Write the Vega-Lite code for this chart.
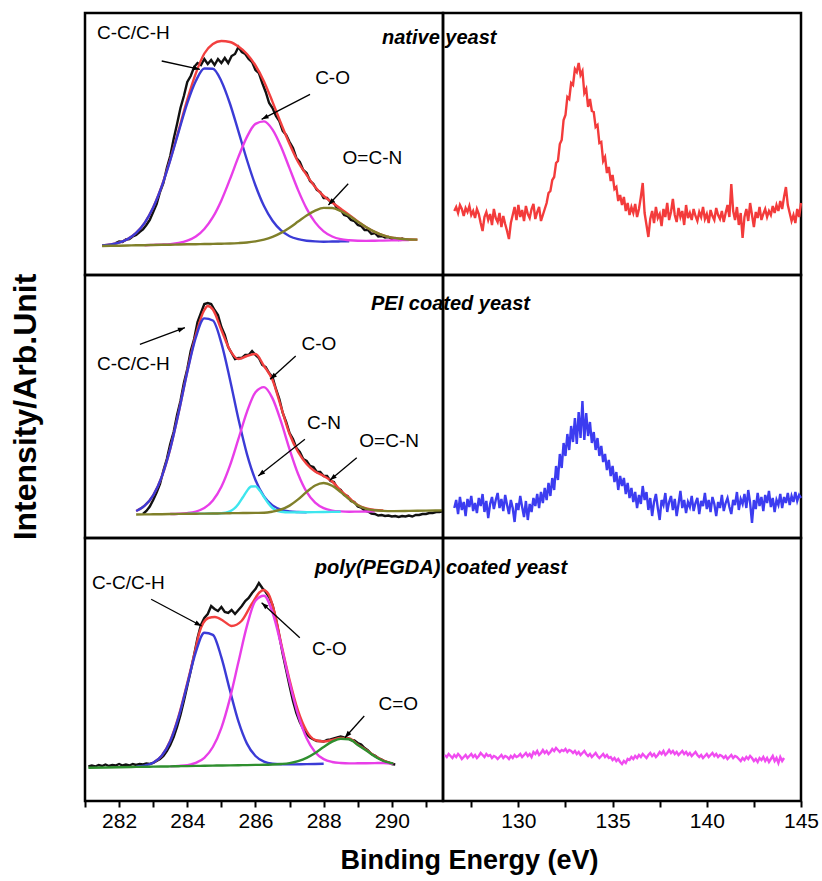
{
  "$schema": "https://vega.github.io/schema/vega-lite/v6.json",
  "background": "white",
  "padding": {"left": 7, "top": 11, "right": 4, "bottom": 4},
  "config": {
    "font": "Liberation Sans",
    "view": {"stroke": "#000000", "strokeWidth": 2.5},
    "mark": {"invalid": "filter"},
    "axis": {"grid": false, "domain": false, "tickColor": "#000000", "tickWidth": 2, "tickSize": 6, "labelColor": "#000000", "labelFontSize": 21, "labelPadding": 3, "labelFlush": false, "titleColor": "#000000"},
    "line": {"strokeWidth": 2.4, "invalid": "filter"}
  },
  "datasets": {
    "raw1": [
      {"e":281.9,"v":32},{"e":282.0,"v":33.5},{"e":282.1,"v":33},{"e":282.2,"v":35.5},{"e":282.3,"v":36},{"e":282.4,"v":38.5},{"e":282.5,"v":40},{"e":282.6,"v":43},{"e":282.7,"v":45.5},{"e":282.8,"v":50},{"e":282.9,"v":55},
      {"e":283.0,"v":63},{"e":283.1,"v":71},{"e":283.2,"v":83},{"e":283.3,"v":92},{"e":283.4,"v":107},{"e":283.5,"v":119},{"e":283.6,"v":136},{"e":283.7,"v":151},{"e":283.8,"v":167},{"e":283.9,"v":179},
      {"e":284.0,"v":193},{"e":284.1,"v":199},{"e":284.2,"v":208},{"e":284.3,"v":212},{"e":284.4,"v":210},{"e":284.5,"v":216},{"e":284.6,"v":211},{"e":284.7,"v":215},{"e":284.8,"v":210},{"e":284.9,"v":216},
      {"e":285.0,"v":212},{"e":285.1,"v":217},{"e":285.2,"v":212},{"e":285.3,"v":219},{"e":285.4,"v":221},{"e":285.5,"v":228},{"e":285.6,"v":223},{"e":285.7,"v":221},{"e":285.8,"v":216},{"e":285.9,"v":213},
      {"e":286.0,"v":205},{"e":286.1,"v":202},{"e":286.2,"v":192},{"e":286.3,"v":183},{"e":286.4,"v":172},{"e":286.5,"v":167},{"e":286.6,"v":159},{"e":286.7,"v":154},{"e":286.8,"v":144},{"e":286.9,"v":140},
      {"e":287.0,"v":133},{"e":287.1,"v":127},{"e":287.2,"v":117},{"e":287.3,"v":113},{"e":287.4,"v":105},{"e":287.5,"v":102},{"e":287.6,"v":94},{"e":287.7,"v":91},{"e":287.8,"v":85},{"e":287.9,"v":83},
      {"e":288.0,"v":77},{"e":288.1,"v":77},{"e":288.2,"v":73},{"e":288.3,"v":72},{"e":288.4,"v":66},{"e":288.5,"v":65},{"e":288.6,"v":60},{"e":288.7,"v":59},{"e":288.8,"v":55},{"e":288.9,"v":54},
      {"e":289.0,"v":50},{"e":289.1,"v":49},{"e":289.2,"v":45},{"e":289.3,"v":45},{"e":289.4,"v":41},{"e":289.5,"v":42},{"e":289.6,"v":38.5},{"e":289.7,"v":39},{"e":289.8,"v":37.5},{"e":289.9,"v":38},
      {"e":290.0,"v":36},{"e":290.1,"v":37},{"e":290.2,"v":35},{"e":290.3,"v":36.5},{"e":290.4,"v":35}
    ],
    "fit1": [
      {"e":281.5,"cc":29.6,"ocn":29.0,"fit":29.6},
      {"e":281.75,"cc":30.6,"ocn":29.2,"fit":30.6},
      {"e":282.0,"cc":32.4,"ocn":29.3,"fit":32.4},
      {"e":282.25,"cc":35.9,"ocn":29.5,"fit":35.9},
      {"e":282.5,"cc":42.1,"ocn":29.7,"fit":42.1},
      {"e":282.75,"cc":52.2,"co":29.8,"ocn":29.8,"fit":52.2},
      {"e":283.0,"cc":67.5,"co":30.1,"ocn":30.0,"fit":67.6},
      {"e":283.25,"cc":88.6,"co":30.4,"ocn":30.2,"fit":88.8},
      {"e":283.5,"cc":114.7,"co":30.9,"ocn":30.3,"fit":115.3},
      {"e":283.75,"cc":143.6,"co":32.0,"ocn":30.5,"fit":145.1},
      {"e":284.0,"cc":171.8,"co":34.3,"ocn":30.7,"fit":175.4},
      {"e":284.25,"cc":194.0,"co":38.4,"ocn":30.8,"fit":201.6},
      {"e":284.5,"cc":206.5,"co":46.0,"ocn":31.0,"fit":221.5},
      {"e":284.75,"cc":206.3,"co":57.8,"ocn":31.1,"fit":231.0},
      {"e":285.0,"cc":193.8,"co":74.6,"ocn":31.3,"fit":234.0},
      {"e":285.25,"cc":171.5,"co":95.6,"ocn":31.5,"fit":233.0},
      {"e":285.5,"cc":143.6,"co":118.1,"ocn":31.9,"fit":228.5},
      {"e":285.75,"cc":115.0,"co":138.1,"ocn":32.5,"fit":221.0},
      {"e":286.0,"cc":89.5,"co":151.1,"ocn":33.6,"fit":209.5},
      {"e":286.25,"cc":68.9,"co":153.6,"ocn":35.3,"fit":193.6},
      {"e":286.5,"cc":54.2,"co":145.4,"ocn":38.1,"fit":173.1},
      {"e":286.75,"cc":44.6,"co":128.3,"ocn":42.1,"fit":151.5},
      {"e":287.0,"cc":38.8,"co":106.6,"ocn":47.3,"fit":131.0},
      {"e":287.25,"cc":35.8,"co":84.9,"ocn":53.4,"fit":113.0},
      {"e":287.5,"cc":34.3,"co":66.4,"ocn":59.5,"fit":100.0},
      {"e":287.75,"cc":33.6,"co":52.6,"ocn":64.3,"fit":88.0},
      {"e":288.0,"cc":33.3,"co":43.7,"ocn":67.1,"fit":79.0},
      {"e":288.25,"cc":33.5,"co":38.5,"ocn":67.0,"fit":72.5},
      {"e":288.5,"cc":33.6,"co":35.8,"ocn":64.0,"fit":66.2},
      {"e":288.75,"cc":33.8,"co":34.7,"ocn":59.2,"fit":60.1},
      {"e":289.0,"co":34.2,"ocn":53.3,"fit":53.6},
      {"e":289.25,"co":34.1,"ocn":47.7,"fit":47.7},
      {"e":289.5,"co":34.3,"ocn":43.1,"fit":43.1},
      {"e":289.75,"co":34.4,"ocn":39.6,"fit":39.6},
      {"e":290.0,"co":34.6,"ocn":37.4,"fit":37.4},
      {"e":290.25,"co":34.8,"ocn":36.2,"fit":36.2},
      {"e":290.5,"co":34.9,"ocn":35.5,"fit":35.5},
      {"e":290.75,"ocn":35.4,"fit":35.4}
    ],
    "raw2": [
      {"e":282.7,"v":24},{"e":282.8,"v":27},{"e":282.9,"v":31.5},{"e":283.0,"v":38},{"e":283.1,"v":45.5},{"e":283.2,"v":54},{"e":283.3,"v":67.5},{"e":283.4,"v":79},{"e":283.5,"v":94},{"e":283.6,"v":106},
      {"e":283.7,"v":123},{"e":283.8,"v":137},{"e":283.9,"v":155},{"e":284.0,"v":169},{"e":284.1,"v":187},{"e":284.2,"v":199},{"e":284.3,"v":216},{"e":284.4,"v":225},{"e":284.5,"v":234},{"e":284.6,"v":235},
      {"e":284.7,"v":234},{"e":284.8,"v":228},{"e":284.9,"v":223},{"e":285.0,"v":211},{"e":285.1,"v":203},{"e":285.2,"v":191},{"e":285.3,"v":185},{"e":285.4,"v":179},{"e":285.5,"v":180},{"e":285.6,"v":180},
      {"e":285.7,"v":183},{"e":285.8,"v":183},{"e":285.9,"v":187},{"e":286.0,"v":183},{"e":286.1,"v":180},{"e":286.2,"v":173},{"e":286.3,"v":171},{"e":286.4,"v":165},{"e":286.5,"v":161},{"e":286.6,"v":149},
      {"e":286.7,"v":139},{"e":286.8,"v":125},{"e":286.9,"v":116},{"e":287.0,"v":105},{"e":287.1,"v":99},{"e":287.2,"v":90},{"e":287.3,"v":86},{"e":287.4,"v":79},{"e":287.5,"v":77},{"e":287.6,"v":72},
      {"e":287.7,"v":71},{"e":287.8,"v":66},{"e":287.9,"v":66},{"e":288.0,"v":62},{"e":288.1,"v":62},{"e":288.2,"v":57},{"e":288.3,"v":56},{"e":288.4,"v":50},{"e":288.5,"v":48},{"e":288.6,"v":43},
      {"e":288.7,"v":42},{"e":288.8,"v":37},{"e":288.9,"v":36},{"e":289.0,"v":31.5},{"e":289.1,"v":30.5},{"e":289.2,"v":27.5},{"e":289.3,"v":26.5},{"e":289.4,"v":24.5},{"e":289.5,"v":24},{"e":289.6,"v":22.5},
      {"e":289.7,"v":23},{"e":289.8,"v":22},{"e":289.9,"v":22.5},{"e":290.0,"v":21.5},{"e":290.1,"v":22},{"e":290.2,"v":21},{"e":290.3,"v":22},{"e":290.4,"v":21.5},{"e":290.5,"v":22.5},{"e":290.6,"v":21.5},
      {"e":290.7,"v":23},{"e":290.8,"v":23},{"e":290.9,"v":24},{"e":291.0,"v":24},{"e":291.1,"v":25},{"e":291.2,"v":25},{"e":291.3,"v":26},{"e":291.4,"v":26},{"e":291.5,"v":27}
    ],
    "fit2": [
      {"e":282.5,"cc":27.0,"ocn":23.5,"fit":27.0},
      {"e":282.75,"cc":32.3,"ocn":23.6,"fit":32.3},
      {"e":283.0,"cc":42.7,"ocn":23.7,"fit":42.7},
      {"e":283.25,"cc":61.1,"ocn":23.8,"fit":61.1},
      {"e":283.5,"cc":89.3,"co":24.0,"ocn":24.0,"fit":89.3},
      {"e":283.75,"cc":125.9,"co":24.3,"ocn":24.1,"fit":126.1},
      {"e":284.0,"cc":166.0,"co":24.9,"cn":24.2,"ocn":24.2,"fit":166.7},
      {"e":284.25,"cc":200.5,"co":26.4,"ocn":24.3,"fit":203.0},
      {"e":284.5,"cc":219.6,"co":29.9,"cn":24.4,"ocn":24.4,"fit":228.0},
      {"e":284.6,"fit":232.0},
      {"e":284.75,"cc":217.5,"co":37.5,"ocn":24.5,"fit":228.5},
      {"e":285.0,"cc":194.8,"co":51.2,"cn":24.8,"ocn":24.6,"fit":208.0},
      {"e":285.25,"cc":158.7,"co":72.3,"cn":26.7,"ocn":24.8,"fit":188.0},
      {"e":285.375,"cn":29.4},
      {"e":285.5,"cc":118.9,"co":99.1,"cn":34.1,"ocn":24.9,"fit":179.0},
      {"e":285.625,"cn":40.5},
      {"e":285.75,"cc":83.9,"co":126.2,"cn":47.1,"ocn":25.0,"fit":182.0},
      {"e":285.875,"cn":51.5},
      {"e":286.0,"cc":58.0,"co":145.8,"cn":51.6,"ocn":25.1,"fit":184.0},
      {"e":286.125,"cn":47.5},
      {"e":286.25,"cc":41.6,"co":150.9,"cn":41.0,"ocn":25.2,"fit":172.0},
      {"e":286.375,"cn":34.7},
      {"e":286.5,"cc":32.6,"co":139.6,"cn":30.0,"ocn":26.4,"fit":158.0},
      {"e":286.75,"cc":28.4,"co":116.3,"cn":26.2,"ocn":28.5,"fit":131.0},
      {"e":287.0,"cc":26.6,"co":88.7,"cn":25.6,"ocn":32.4,"fit":104.0},
      {"e":287.25,"cc":26.0,"co":64.0,"ocn":38.6,"fit":86.0},
      {"e":287.5,"cc":25.8,"co":46.1,"cn":25.8,"ocn":46.1,"fit":74.0},
      {"e":287.75,"co":35.3,"ocn":52.5,"fit":66.5},
      {"e":288.0,"co":29.8,"cn":26.0,"ocn":55.0,"fit":62.0},
      {"e":288.25,"co":27.4,"ocn":52.3,"fit":56.5},
      {"e":288.5,"co":26.6,"cn":26.2,"ocn":45.9,"fit":47.5},
      {"e":288.75,"co":26.3,"ocn":38.6,"fit":40.0},
      {"e":289.0,"co":26.4,"ocn":32.8,"fit":33.0},
      {"e":289.25,"co":26.5,"ocn":29.2,"fit":29.5},
      {"e":289.5,"co":26.7,"ocn":27.7,"fit":28.0},
      {"e":289.75,"ocn":27.1,"fit":27.5},
      {"e":290.0,"ocn":26.9},
      {"e":290.5,"ocn":27.1},
      {"e":291.0,"ocn":27.4},
      {"e":291.5,"ocn":27.6}
    ],
    "raw3": [
      {"e":281.1,"v":34.5},{"e":281.2,"v":35.5},{"e":281.3,"v":34.5},{"e":281.4,"v":36},{"e":281.5,"v":35},{"e":281.6,"v":36.5},{"e":281.7,"v":35},{"e":281.8,"v":36},{"e":281.9,"v":35.5},{"e":282.0,"v":37},
      {"e":282.1,"v":35.5},{"e":282.2,"v":36.5},{"e":282.3,"v":35.5},{"e":282.4,"v":37},{"e":282.5,"v":36},{"e":282.6,"v":37},{"e":282.7,"v":36.5},{"e":282.8,"v":37.5},{"e":282.9,"v":37},{"e":283.0,"v":38},
      {"e":283.1,"v":40},{"e":283.2,"v":42},{"e":283.3,"v":45},{"e":283.4,"v":50},{"e":283.5,"v":56},{"e":283.6,"v":64},{"e":283.7,"v":74},{"e":283.8,"v":86},{"e":283.9,"v":100},{"e":284.0,"v":115},
      {"e":284.1,"v":130},{"e":284.2,"v":146},{"e":284.3,"v":163},{"e":284.4,"v":176},{"e":284.5,"v":183},{"e":284.6,"v":187},{"e":284.7,"v":195},{"e":284.8,"v":192},{"e":284.9,"v":190},{"e":285.0,"v":194},
      {"e":285.1,"v":189},{"e":285.2,"v":188},{"e":285.3,"v":191},{"e":285.4,"v":187},{"e":285.5,"v":191},{"e":285.6,"v":195},{"e":285.7,"v":200},{"e":285.8,"v":203},{"e":285.9,"v":208},{"e":286.0,"v":212},
      {"e":286.1,"v":218},{"e":286.2,"v":213},{"e":286.3,"v":209},{"e":286.4,"v":204},{"e":286.5,"v":196},{"e":286.6,"v":182},{"e":286.7,"v":165},{"e":286.8,"v":147},{"e":286.9,"v":131},{"e":287.0,"v":115},
      {"e":287.1,"v":100},{"e":287.2,"v":88},{"e":287.3,"v":79},{"e":287.4,"v":72},{"e":287.5,"v":67},{"e":287.6,"v":63.5},{"e":287.7,"v":61.5},{"e":287.8,"v":60},{"e":287.9,"v":60},{"e":288.0,"v":59.5},
      {"e":288.1,"v":61},{"e":288.2,"v":61.5},{"e":288.3,"v":62.5},{"e":288.4,"v":63.5},{"e":288.5,"v":64.5},{"e":288.6,"v":63.5},{"e":288.7,"v":63},{"e":288.8,"v":61},{"e":288.9,"v":60.5},{"e":289.0,"v":58},
      {"e":289.1,"v":56.5},{"e":289.2,"v":53},{"e":289.3,"v":50.5},{"e":289.4,"v":47},{"e":289.5,"v":45.5},{"e":289.6,"v":43},{"e":289.7,"v":41.5},{"e":289.8,"v":39.5},{"e":289.9,"v":38.5},{"e":290.0,"v":37},
      {"e":290.1,"v":36.5}
    ],
    "fit3": [
      {"e":281.1,"g":33.3},
      {"e":282.0,"g":33.8},
      {"e":282.5,"cc":34.4,"g":34.1},
      {"e":282.75,"cc":35.4,"g":34.2},
      {"e":283.0,"cc":38.3,"g":34.4,"fit":38.3},
      {"e":283.25,"cc":45.2,"g":34.5,"fit":45.3},
      {"e":283.5,"cc":59.7,"co":34.6,"g":34.6,"fit":60.3},
      {"e":283.75,"cc":84.3,"co":35.1,"g":34.8,"fit":85.4},
      {"e":284.0,"cc":116.8,"co":35.9,"g":34.9,"fit":118.0},
      {"e":284.25,"cc":149.0,"co":38.1,"g":35.1,"fit":153.0},
      {"e":284.35,"fit":168.0},
      {"e":284.47,"fit":178.0},
      {"e":284.5,"cc":168.3,"co":43.2,"g":35.2},
      {"e":284.62,"fit":183.0},
      {"e":284.75,"cc":166.2,"co":54.0,"g":35.4},
      {"e":284.81,"fit":184.0},
      {"e":285.0,"cc":143.6,"co":73.2,"g":35.5},
      {"e":285.06,"fit":180.0},
      {"e":285.25,"cc":110.7,"co":102.4,"g":35.6},
      {"e":285.3,"fit":175.0},
      {"e":285.5,"cc":79.6,"co":138.9,"g":35.8},
      {"e":285.59,"fit":180.0},
      {"e":285.75,"cc":57.4,"co":175.1,"g":35.9},
      {"e":285.89,"fit":197.0},
      {"e":286.0,"cc":45.0,"co":200.3,"g":36.1},
      {"e":286.13,"fit":209.0},
      {"e":286.23,"fit":211.0},
      {"e":286.25,"cc":39.3,"co":205.3,"g":36.2},
      {"e":286.38,"fit":207.0},
      {"e":286.5,"cc":37.2,"co":188.4,"g":36.5},
      {"e":286.57,"fit":187.0},
      {"e":286.75,"cc":36.7,"co":156.2,"g":37.0,"fit":158.0},
      {"e":287.0,"cc":36.6,"co":118.8,"g":37.9,"fit":121.0},
      {"e":287.25,"co":86.1,"g":39.9,"fit":90.0},
      {"e":287.5,"cc":36.9,"co":62.7,"g":43.2,"fit":70.0},
      {"e":287.75,"co":48.8,"g":48.1,"fit":61.0},
      {"e":288.0,"cc":37.2,"co":41.9,"g":54.0,"fit":59.5},
      {"e":288.25,"co":39.0,"g":59.3,"fit":61.0},
      {"e":288.5,"co":38.0,"g":62.3,"fit":63.0},
      {"e":288.75,"co":37.6,"g":61.8,"fit":62.5},
      {"e":289.0,"co":37.7,"g":56.0,"fit":56.5},
      {"e":289.25,"co":37.8,"g":50.5,"fit":51.0},
      {"e":289.5,"co":37.9,"g":44.5,"fit":45.0},
      {"e":289.75,"co":38.0,"g":40.0,"fit":40.5},
      {"e":290.04,"co":37.0,"g":37.5,"fit":37.0}
    ],
    "p2p_native": [
      {"e":126.6,"v":64},{"e":126.7,"v":68},{"e":126.8,"v":62},{"e":126.9,"v":70},{"e":127.0,"v":66},{"e":127.1,"v":59},{"e":127.2,"v":67},{"e":127.3,"v":63},{"e":127.4,"v":69},{"e":127.5,"v":60},
      {"e":127.6,"v":64},{"e":127.7,"v":57},{"e":127.8,"v":66},{"e":127.9,"v":61},{"e":128.0,"v":52},{"e":128.1,"v":44},{"e":128.2,"v":58},{"e":128.3,"v":63},{"e":128.4,"v":55},{"e":128.5,"v":61},
      {"e":128.6,"v":50},{"e":128.7,"v":66},{"e":128.8,"v":57},{"e":128.9,"v":53},{"e":129.0,"v":62},{"e":129.1,"v":48},{"e":129.2,"v":59},{"e":129.3,"v":51},{"e":129.4,"v":44},{"e":129.5,"v":36},
      {"e":129.6,"v":52},{"e":129.7,"v":60},{"e":129.8,"v":68},{"e":129.9,"v":55},{"e":130.0,"v":70},{"e":130.1,"v":58},{"e":130.2,"v":65},{"e":130.3,"v":54},{"e":130.4,"v":69},{"e":130.5,"v":61},
      {"e":130.6,"v":57},{"e":130.7,"v":66},{"e":130.8,"v":71},{"e":130.9,"v":56},{"e":131.0,"v":63},{"e":131.1,"v":68},{"e":131.2,"v":54},{"e":131.3,"v":60},{"e":131.4,"v":66},{"e":131.5,"v":72},
      {"e":131.6,"v":82},{"e":131.7,"v":84},{"e":131.8,"v":95},{"e":131.9,"v":98},{"e":132.0,"v":112},{"e":132.1,"v":114},{"e":132.2,"v":131},{"e":132.3,"v":135},{"e":132.4,"v":155},{"e":132.5,"v":160},
      {"e":132.6,"v":178},{"e":132.7,"v":176},{"e":132.8,"v":192},{"e":132.9,"v":190},{"e":133.0,"v":206},{"e":133.1,"v":203},{"e":133.2,"v":212},{"e":133.3,"v":200},{"e":133.4,"v":204},{"e":133.5,"v":182},
      {"e":133.6,"v":186},{"e":133.7,"v":168},{"e":133.8,"v":176},{"e":133.9,"v":164},{"e":134.0,"v":163},{"e":134.1,"v":148},{"e":134.2,"v":150},{"e":134.3,"v":132},{"e":134.4,"v":133},{"e":134.5,"v":114},
      {"e":134.6,"v":118},{"e":134.7,"v":102},{"e":134.8,"v":108},{"e":134.9,"v":94},{"e":135.0,"v":100},{"e":135.1,"v":86},{"e":135.2,"v":88},{"e":135.3,"v":74},{"e":135.4,"v":80},{"e":135.5,"v":70},
      {"e":135.6,"v":78},{"e":135.7,"v":64},{"e":135.8,"v":72},{"e":135.9,"v":60},{"e":136.0,"v":68},{"e":136.1,"v":62},{"e":136.2,"v":71},{"e":136.3,"v":58},{"e":136.4,"v":66},{"e":136.5,"v":78},
      {"e":136.6,"v":92},{"e":136.7,"v":62},{"e":136.8,"v":50},{"e":136.9,"v":38},{"e":137.0,"v":56},{"e":137.1,"v":64},{"e":137.2,"v":52},{"e":137.3,"v":68},{"e":137.4,"v":57},{"e":137.5,"v":61},
      {"e":137.6,"v":49},{"e":137.7,"v":66},{"e":137.8,"v":58},{"e":137.9,"v":72},{"e":138.0,"v":55},{"e":138.1,"v":63},{"e":138.2,"v":76},{"e":138.3,"v":60},{"e":138.4,"v":53},{"e":138.5,"v":67},
      {"e":138.6,"v":58},{"e":138.7,"v":64},{"e":138.8,"v":50},{"e":138.9,"v":70},{"e":139.0,"v":57},{"e":139.1,"v":62},{"e":139.2,"v":55},{"e":139.3,"v":66},{"e":139.4,"v":59},{"e":139.5,"v":54},
      {"e":139.6,"v":63},{"e":139.7,"v":58},{"e":139.8,"v":68},{"e":139.9,"v":56},{"e":140.0,"v":61},{"e":140.1,"v":52},{"e":140.2,"v":65},{"e":140.3,"v":59},{"e":140.4,"v":55},{"e":140.5,"v":67},
      {"e":140.6,"v":60},{"e":140.7,"v":56},{"e":140.8,"v":64},{"e":140.9,"v":53},{"e":141.0,"v":62},{"e":141.1,"v":70},{"e":141.2,"v":58},{"e":141.3,"v":91},{"e":141.4,"v":64},{"e":141.5,"v":55},
      {"e":141.6,"v":68},{"e":141.7,"v":50},{"e":141.8,"v":62},{"e":141.9,"v":37},{"e":142.0,"v":58},{"e":142.1,"v":66},{"e":142.2,"v":54},{"e":142.3,"v":72},{"e":142.4,"v":60},{"e":142.5,"v":48},
      {"e":142.6,"v":63},{"e":142.7,"v":57},{"e":142.8,"v":68},{"e":142.9,"v":55},{"e":143.0,"v":61},{"e":143.1,"v":66},{"e":143.2,"v":58},{"e":143.3,"v":64},{"e":143.4,"v":60},{"e":143.5,"v":69},
      {"e":143.6,"v":62},{"e":143.7,"v":70},{"e":143.8,"v":64},{"e":143.9,"v":74},{"e":144.0,"v":66},{"e":144.1,"v":78},{"e":144.2,"v":88},{"e":144.3,"v":70},{"e":144.4,"v":62},{"e":144.5,"v":54},
      {"e":144.6,"v":60},{"e":144.7,"v":52},{"e":144.8,"v":66},{"e":144.9,"v":58},{"e":145.0,"v":72}
    ],
    "p2p_pei": [
      {"e":126.6,"v":30},{"e":126.7,"v":38},{"e":126.8,"v":24},{"e":126.9,"v":41},{"e":127.0,"v":28},{"e":127.1,"v":36},{"e":127.2,"v":22},{"e":127.3,"v":39},{"e":127.4,"v":31},{"e":127.5,"v":42},
      {"e":127.6,"v":27},{"e":127.7,"v":35},{"e":127.8,"v":25},{"e":127.9,"v":40},{"e":128.0,"v":32},{"e":128.1,"v":44},{"e":128.2,"v":26},{"e":128.3,"v":37},{"e":128.4,"v":20},{"e":128.5,"v":34},
      {"e":128.6,"v":41},{"e":128.7,"v":29},{"e":128.8,"v":38},{"e":128.9,"v":45},{"e":129.0,"v":30},{"e":129.1,"v":39},{"e":129.2,"v":27},{"e":129.3,"v":43},{"e":129.4,"v":33},{"e":129.5,"v":24},
      {"e":129.6,"v":38},{"e":129.7,"v":30},{"e":129.8,"v":16},{"e":129.9,"v":35},{"e":130.0,"v":28},{"e":130.1,"v":42},{"e":130.2,"v":31},{"e":130.3,"v":21},{"e":130.4,"v":37},{"e":130.5,"v":18},
      {"e":130.6,"v":34},{"e":130.7,"v":26},{"e":130.8,"v":40},{"e":130.9,"v":32},{"e":131.0,"v":44},{"e":131.1,"v":30},{"e":131.2,"v":46},{"e":131.3,"v":35},{"e":131.4,"v":50},{"e":131.5,"v":38},
      {"e":131.6,"v":55},{"e":131.7,"v":42},{"e":131.8,"v":60},{"e":131.9,"v":48},{"e":132.0,"v":72},{"e":132.1,"v":58},{"e":132.2,"v":84},{"e":132.3,"v":70},{"e":132.4,"v":95},{"e":132.5,"v":82},
      {"e":132.6,"v":104},{"e":132.7,"v":88},{"e":132.8,"v":112},{"e":132.9,"v":96},{"e":133.0,"v":120},{"e":133.1,"v":94},{"e":133.2,"v":126},{"e":133.3,"v":100},{"e":133.4,"v":137},{"e":133.5,"v":98},
      {"e":133.6,"v":125},{"e":133.7,"v":102},{"e":133.8,"v":116},{"e":133.9,"v":95},{"e":134.0,"v":106},{"e":134.1,"v":88},{"e":134.2,"v":100},{"e":134.3,"v":82},{"e":134.4,"v":92},{"e":134.5,"v":76},
      {"e":134.6,"v":84},{"e":134.7,"v":68},{"e":134.8,"v":78},{"e":134.9,"v":62},{"e":135.0,"v":72},{"e":135.1,"v":56},{"e":135.2,"v":66},{"e":135.3,"v":48},{"e":135.4,"v":62},{"e":135.5,"v":52},
      {"e":135.6,"v":60},{"e":135.7,"v":44},{"e":135.8,"v":55},{"e":135.9,"v":40},{"e":136.0,"v":50},{"e":136.1,"v":36},{"e":136.2,"v":46},{"e":136.3,"v":30},{"e":136.4,"v":43},{"e":136.5,"v":34},
      {"e":136.6,"v":52},{"e":136.7,"v":38},{"e":136.8,"v":46},{"e":136.9,"v":28},{"e":137.0,"v":40},{"e":137.1,"v":22},{"e":137.2,"v":36},{"e":137.3,"v":44},{"e":137.4,"v":30},{"e":137.5,"v":18},
      {"e":137.6,"v":38},{"e":137.7,"v":33},{"e":137.8,"v":45},{"e":137.9,"v":26},{"e":138.0,"v":36},{"e":138.1,"v":42},{"e":138.2,"v":28},{"e":138.3,"v":39},{"e":138.4,"v":22},{"e":138.5,"v":34},
      {"e":138.6,"v":47},{"e":138.7,"v":30},{"e":138.8,"v":38},{"e":138.9,"v":25},{"e":139.0,"v":36},{"e":139.1,"v":31},{"e":139.2,"v":42},{"e":139.3,"v":27},{"e":139.4,"v":35},{"e":139.5,"v":40},
      {"e":139.6,"v":24},{"e":139.7,"v":37},{"e":139.8,"v":32},{"e":139.9,"v":45},{"e":140.0,"v":29},{"e":140.1,"v":38},{"e":140.2,"v":26},{"e":140.3,"v":41},{"e":140.4,"v":34},{"e":140.5,"v":22},
      {"e":140.6,"v":36},{"e":140.7,"v":30},{"e":140.8,"v":43},{"e":140.9,"v":27},{"e":141.0,"v":35},{"e":141.1,"v":40},{"e":141.2,"v":31},{"e":141.3,"v":24},{"e":141.4,"v":38},{"e":141.5,"v":33},
      {"e":141.6,"v":46},{"e":141.7,"v":28},{"e":141.8,"v":39},{"e":141.9,"v":34},{"e":142.0,"v":44},{"e":142.1,"v":30},{"e":142.2,"v":48},{"e":142.3,"v":35},{"e":142.4,"v":15},{"e":142.5,"v":38},
      {"e":142.6,"v":29},{"e":142.7,"v":45},{"e":142.8,"v":32},{"e":142.9,"v":41},{"e":143.0,"v":27},{"e":143.1,"v":43},{"e":143.2,"v":35},{"e":143.3,"v":47},{"e":143.4,"v":31},{"e":143.5,"v":40},
      {"e":143.6,"v":26},{"e":143.7,"v":38},{"e":143.8,"v":33},{"e":143.9,"v":44},{"e":144.0,"v":30},{"e":144.1,"v":41},{"e":144.2,"v":35},{"e":144.3,"v":45},{"e":144.4,"v":33},{"e":144.5,"v":42},
      {"e":144.6,"v":36},{"e":144.7,"v":46},{"e":144.8,"v":37},{"e":144.9,"v":43},{"e":145.0,"v":40}
    ],
    "p2p_pegda": [
      {"e":126.1,"v":46},{"e":126.2,"v":44},{"e":126.3,"v":47},{"e":126.4,"v":45},{"e":126.5,"v":43},{"e":126.6,"v":46},{"e":126.7,"v":44},{"e":126.8,"v":47},{"e":126.9,"v":45},{"e":127.0,"v":42},
      {"e":127.1,"v":44},{"e":127.2,"v":46},{"e":127.3,"v":43},{"e":127.4,"v":45},{"e":127.5,"v":47},{"e":127.6,"v":44},{"e":127.7,"v":46},{"e":127.8,"v":43},{"e":127.9,"v":45},{"e":128.0,"v":48},
      {"e":128.1,"v":46},{"e":128.2,"v":44},{"e":128.3,"v":47},{"e":128.4,"v":45},{"e":128.5,"v":46},{"e":128.6,"v":43},{"e":128.7,"v":45},{"e":128.8,"v":44},{"e":128.9,"v":42},{"e":129.0,"v":44},
      {"e":129.1,"v":46},{"e":129.2,"v":43},{"e":129.3,"v":45},{"e":129.4,"v":44},{"e":129.5,"v":42},{"e":129.6,"v":45},{"e":129.7,"v":43},{"e":129.8,"v":46},{"e":129.9,"v":44},{"e":130.0,"v":45},
      {"e":130.1,"v":47},{"e":130.2,"v":44},{"e":130.3,"v":46},{"e":130.4,"v":48},{"e":130.5,"v":45},{"e":130.6,"v":47},{"e":130.7,"v":44},{"e":130.8,"v":49},{"e":130.9,"v":47},{"e":131.0,"v":50},
      {"e":131.1,"v":46},{"e":131.2,"v":48},{"e":131.3,"v":51},{"e":131.4,"v":48},{"e":131.5,"v":50},{"e":131.6,"v":47},{"e":131.7,"v":49},{"e":131.8,"v":52},{"e":131.9,"v":50},{"e":132.0,"v":53},
      {"e":132.1,"v":51},{"e":132.2,"v":49},{"e":132.3,"v":51},{"e":132.4,"v":50},{"e":132.5,"v":52},{"e":132.6,"v":49},{"e":132.7,"v":51},{"e":132.8,"v":50},{"e":132.9,"v":48},{"e":133.0,"v":50},
      {"e":133.1,"v":47},{"e":133.2,"v":49},{"e":133.3,"v":46},{"e":133.4,"v":48},{"e":133.5,"v":50},{"e":133.6,"v":47},{"e":133.7,"v":45},{"e":133.8,"v":47},{"e":133.9,"v":44},{"e":134.0,"v":46},
      {"e":134.1,"v":48},{"e":134.2,"v":45},{"e":134.3,"v":43},{"e":134.4,"v":45},{"e":134.5,"v":47},{"e":134.6,"v":44},{"e":134.7,"v":46},{"e":134.8,"v":43},{"e":134.9,"v":44},{"e":135.0,"v":41},
      {"e":135.1,"v":43},{"e":135.2,"v":40},{"e":135.3,"v":42},{"e":135.4,"v":39},{"e":135.5,"v":37},{"e":135.6,"v":40},{"e":135.7,"v":38},{"e":135.8,"v":42},{"e":135.9,"v":41},{"e":136.0,"v":44},
      {"e":136.1,"v":42},{"e":136.2,"v":45},{"e":136.3,"v":43},{"e":136.4,"v":46},{"e":136.5,"v":44},{"e":136.6,"v":47},{"e":136.7,"v":45},{"e":136.8,"v":43},{"e":136.9,"v":46},{"e":137.0,"v":48},
      {"e":137.1,"v":45},{"e":137.2,"v":47},{"e":137.3,"v":44},{"e":137.4,"v":46},{"e":137.5,"v":49},{"e":137.6,"v":47},{"e":137.7,"v":50},{"e":137.8,"v":46},{"e":137.9,"v":48},{"e":138.0,"v":51},
      {"e":138.1,"v":48},{"e":138.2,"v":50},{"e":138.3,"v":47},{"e":138.4,"v":49},{"e":138.5,"v":46},{"e":138.6,"v":48},{"e":138.7,"v":50},{"e":138.8,"v":47},{"e":138.9,"v":49},{"e":139.0,"v":46},
      {"e":139.1,"v":48},{"e":139.2,"v":45},{"e":139.3,"v":47},{"e":139.4,"v":49},{"e":139.5,"v":46},{"e":139.6,"v":44},{"e":139.7,"v":46},{"e":139.8,"v":43},{"e":139.9,"v":45},{"e":140.0,"v":47},
      {"e":140.1,"v":44},{"e":140.2,"v":46},{"e":140.3,"v":48},{"e":140.4,"v":45},{"e":140.5,"v":47},{"e":140.6,"v":44},{"e":140.7,"v":46},{"e":140.8,"v":45},{"e":140.9,"v":43},{"e":141.0,"v":45},
      {"e":141.1,"v":42},{"e":141.2,"v":44},{"e":141.3,"v":46},{"e":141.4,"v":43},{"e":141.5,"v":45},{"e":141.6,"v":44},{"e":141.7,"v":42},{"e":141.8,"v":40},{"e":141.9,"v":43},{"e":142.0,"v":41},
      {"e":142.1,"v":44},{"e":142.2,"v":42},{"e":142.3,"v":45},{"e":142.4,"v":43},{"e":142.5,"v":40},{"e":142.6,"v":42},{"e":142.7,"v":39},{"e":142.8,"v":43},{"e":142.9,"v":41},{"e":143.0,"v":44},
      {"e":143.1,"v":40},{"e":143.2,"v":43},{"e":143.3,"v":39},{"e":143.4,"v":42},{"e":143.5,"v":45},{"e":143.6,"v":40},{"e":143.7,"v":43},{"e":143.8,"v":38},{"e":143.9,"v":44},{"e":144.0,"v":40},
      {"e":144.1,"v":43}
    ]
  },
  "columns": 2,
  "spacing": 0,
  "bounds": "flush",
  "concat": [
    {
      "width": 358, "height": 262,
      "encoding": {"x": {"field": "e", "type": "quantitative", "scale": {"domain": [281, 291.5], "nice": false, "zero": false}, "axis": null}},
      "layer": [
        {"data": {"name": "raw1"}, "mark": {"type": "line", "color": "#111111"}, "encoding": {"y": {"field": "v", "type": "quantitative", "scale": {"domain": [0, 262], "nice": false, "zero": false}, "axis": null}}},
        {"data": {"name": "fit1"}, "mark": {"type": "line", "color": "#f2403f", "interpolate": "monotone"}, "encoding": {"y": {"field": "fit", "type": "quantitative", "axis": null}}},
        {"data": {"name": "fit1"}, "mark": {"type": "line", "color": "#3b3bd6", "interpolate": "monotone"}, "encoding": {"y": {"field": "cc", "type": "quantitative", "axis": null}}},
        {"data": {"name": "fit1"}, "mark": {"type": "line", "color": "#e83ee8", "interpolate": "monotone"}, "encoding": {"y": {"field": "co", "type": "quantitative", "axis": null}}},
        {"data": {"name": "fit1"}, "mark": {"type": "line", "color": "#80802a", "interpolate": "monotone"}, "encoding": {"y": {"field": "ocn", "type": "quantitative", "axis": null}}},
        {"data": {"values": [{"e":283.25,"v":214,"e2":284.37,"v2":205.7,"a":102},{"e":287.6,"v":180.7,"e2":286.18,"v2":155.7,"a":-117},{"e":288.72,"v":91.3,"e2":288.14,"v2":70,"a":-137}]},
         "layer": [
           {"mark": {"type": "rule", "color": "#000000", "strokeWidth": 1.3}, "encoding": {"y": {"field": "v", "type": "quantitative", "axis": null}, "x2": {"field": "e2"}, "y2": {"field": "v2"}}},
           {"mark": {"type": "point", "shape": "M0,0L0.7,2L-0.7,2Z", "filled": true, "color": "#000000", "size": 49, "opacity": 1}, "encoding": {"x": {"field": "e2", "type": "quantitative"}, "y": {"field": "v2", "type": "quantitative", "axis": null}, "angle": {"field": "a", "type": "quantitative", "scale": null}}}
         ]},
        {"data": {"values": [{"e":282.42,"v":242,"t":"C-C/C-H"},{"e":288.26,"v":197,"t":"C-O"},{"e":289.43,"v":117,"t":"O=C-N"}]},
         "mark": {"type": "text", "fontSize": 19, "color": "#000000", "baseline": "middle", "align": "center"},
         "encoding": {"y": {"field": "v", "type": "quantitative", "axis": null}, "text": {"field": "t"}}},
        {"data": {"values": [{"e":291.39,"v":237,"t":"native yeast"}]},
         "mark": {"type": "text", "fontSize": 20, "fontWeight": "bold", "fontStyle": "italic", "color": "#000000", "baseline": "middle", "align": "center"},
         "encoding": {"y": {"field": "v", "type": "quantitative", "axis": null}, "text": {"field": "t"}}}
      ]
    },
    {
      "width": 358, "height": 262,
      "data": {"name": "p2p_native"},
      "mark": {"type": "line", "color": "#f33b3b"},
      "encoding": {
        "x": {"field": "e", "type": "quantitative", "scale": {"domain": [126, 145], "nice": false, "zero": false}, "axis": null},
        "y": {"field": "v", "type": "quantitative", "scale": {"domain": [0, 262], "nice": false, "zero": false}, "axis": null}
      }
    },
    {
      "width": 358, "height": 263,
      "encoding": {"x": {"field": "e", "type": "quantitative", "scale": {"domain": [281, 291.5], "nice": false, "zero": false}, "axis": null}},
      "layer": [
        {"data": {"name": "raw2"}, "mark": {"type": "line", "color": "#111111"}, "encoding": {"y": {"field": "v", "type": "quantitative", "scale": {"domain": [0, 263], "nice": false, "zero": false}, "axis": {"title": "Intensity/Arb.Unit", "labels": false, "ticks": false, "domain": false, "titleFontSize": 32, "titleFontWeight": "bold", "titlePadding": 43}}}},
        {"data": {"name": "fit2"}, "mark": {"type": "line", "color": "#f2403f", "interpolate": "monotone"}, "encoding": {"y": {"field": "fit", "type": "quantitative", "axis": {"title": "Intensity/Arb.Unit", "labels": false, "ticks": false, "domain": false, "titleFontSize": 32, "titleFontWeight": "bold", "titlePadding": 43}}}},
        {"data": {"name": "fit2"}, "mark": {"type": "line", "color": "#3b3bd6", "interpolate": "monotone"}, "encoding": {"y": {"field": "cc", "type": "quantitative", "axis": {"title": "Intensity/Arb.Unit", "labels": false, "ticks": false, "domain": false, "titleFontSize": 32, "titleFontWeight": "bold", "titlePadding": 43}}}},
        {"data": {"name": "fit2"}, "mark": {"type": "line", "color": "#e83ee8", "interpolate": "monotone"}, "encoding": {"y": {"field": "co", "type": "quantitative", "axis": {"title": "Intensity/Arb.Unit", "labels": false, "ticks": false, "domain": false, "titleFontSize": 32, "titleFontWeight": "bold", "titlePadding": 43}}}},
        {"data": {"name": "fit2"}, "mark": {"type": "line", "color": "#3ee6ee", "interpolate": "monotone"}, "encoding": {"y": {"field": "cn", "type": "quantitative", "axis": {"title": "Intensity/Arb.Unit", "labels": false, "ticks": false, "domain": false, "titleFontSize": 32, "titleFontWeight": "bold", "titlePadding": 43}}}},
        {"data": {"name": "fit2"}, "mark": {"type": "line", "color": "#80802a", "interpolate": "monotone"}, "encoding": {"y": {"field": "ocn", "type": "quantitative", "axis": {"title": "Intensity/Arb.Unit", "labels": false, "ticks": false, "domain": false, "titleFontSize": 32, "titleFontWeight": "bold", "titlePadding": 43}}}},
        {"data": {"values": [{"e":282.61,"v":193.7,"e2":283.93,"v2":210.3,"a":70},{"e":287.18,"v":182,"e2":286.43,"v2":158.7,"a":-132},{"e":287.45,"v":98.7,"e2":286.08,"v2":62,"a":-128},{"e":288.97,"v":80.3,"e2":288.18,"v2":57.7,"a":-130}]},
         "layer": [
           {"mark": {"type": "rule", "color": "#000000", "strokeWidth": 1.3}, "encoding": {"y": {"field": "v", "type": "quantitative", "axis": {"title": "Intensity/Arb.Unit", "labels": false, "ticks": false, "domain": false, "titleFontSize": 32, "titleFontWeight": "bold", "titlePadding": 43}}, "x2": {"field": "e2"}, "y2": {"field": "v2"}}},
           {"mark": {"type": "point", "shape": "M0,0L0.7,2L-0.7,2Z", "filled": true, "color": "#000000", "size": 49, "opacity": 1}, "encoding": {"x": {"field": "e2", "type": "quantitative"}, "y": {"field": "v2", "type": "quantitative", "axis": {"title": "Intensity/Arb.Unit", "labels": false, "ticks": false, "domain": false, "titleFontSize": 32, "titleFontWeight": "bold", "titlePadding": 43}}, "angle": {"field": "a", "type": "quantitative", "scale": null}}}
         ]},
        {"data": {"values": [{"e":282.42,"v":174.5,"t":"C-C/C-H"},{"e":287.86,"v":194.5,"t":"C-O"},{"e":288.01,"v":115.3,"t":"C-N"},{"e":289.92,"v":97,"t":"O=C-N"}]},
         "mark": {"type": "text", "fontSize": 19, "color": "#000000", "baseline": "middle", "align": "center"},
         "encoding": {"y": {"field": "v", "type": "quantitative", "axis": {"title": "Intensity/Arb.Unit", "labels": false, "ticks": false, "domain": false, "titleFontSize": 32, "titleFontWeight": "bold", "titlePadding": 43}}, "text": {"field": "t"}}},
        {"data": {"values": [{"e":291.72,"v":233.7,"t":"PEI coated yeast"}]},
         "mark": {"type": "text", "fontSize": 20, "fontWeight": "bold", "fontStyle": "italic", "color": "#000000", "baseline": "middle", "align": "center"},
         "encoding": {"y": {"field": "v", "type": "quantitative", "axis": {"title": "Intensity/Arb.Unit", "labels": false, "ticks": false, "domain": false, "titleFontSize": 32, "titleFontWeight": "bold", "titlePadding": 43}}, "text": {"field": "t"}}}
      ]
    },
    {
      "width": 358, "height": 263,
      "data": {"name": "p2p_pei"},
      "mark": {"type": "line", "color": "#3c3cf0"},
      "encoding": {
        "x": {"field": "e", "type": "quantitative", "scale": {"domain": [126, 145], "nice": false, "zero": false}, "axis": null},
        "y": {"field": "v", "type": "quantitative", "scale": {"domain": [0, 263], "nice": false, "zero": false}, "axis": null}
      }
    },
    {
      "width": 358, "height": 263,
      "encoding": {"x": {"field": "e", "type": "quantitative", "scale": {"domain": [281, 291.5], "nice": false, "zero": false},
        "axis": {"values": [281, 282, 283, 284, 285, 286, 287, 288, 289, 290, 291], "labelExpr": "datum.value % 2 === 0 ? datum.label : ''", "title": "Binding Energy (eV)", "titleFontSize": 27, "titleFontWeight": "bold", "titleX": 384, "titlePadding": 16}}},
      "layer": [
        {"data": {"name": "raw3"}, "mark": {"type": "line", "color": "#111111"}, "encoding": {"y": {"field": "v", "type": "quantitative", "scale": {"domain": [0, 263], "nice": false, "zero": false}, "axis": null}}},
        {"data": {"name": "fit3"}, "mark": {"type": "line", "color": "#f2403f", "interpolate": "monotone"}, "encoding": {"y": {"field": "fit", "type": "quantitative", "axis": null}}},
        {"data": {"name": "fit3"}, "mark": {"type": "line", "color": "#3b3bd6", "interpolate": "monotone"}, "encoding": {"y": {"field": "cc", "type": "quantitative", "axis": null}}},
        {"data": {"name": "fit3"}, "mark": {"type": "line", "color": "#e83ee8", "interpolate": "monotone"}, "encoding": {"y": {"field": "co", "type": "quantitative", "axis": null}}},
        {"data": {"name": "fit3"}, "mark": {"type": "line", "color": "#2f8f2f", "interpolate": "monotone"}, "encoding": {"y": {"field": "g", "type": "quantitative", "axis": null}}},
        {"data": {"values": [{"e":282.94,"v":201.7,"e2":284.42,"v2":175,"a":118},{"e":287.3,"v":163.3,"e2":286.18,"v2":198.3,"a":-48},{"e":289.19,"v":85,"e2":288.62,"v2":63.3,"a":-138}]},
         "layer": [
           {"mark": {"type": "rule", "color": "#000000", "strokeWidth": 1.3}, "encoding": {"y": {"field": "v", "type": "quantitative", "axis": null}, "x2": {"field": "e2"}, "y2": {"field": "v2"}}},
           {"mark": {"type": "point", "shape": "M0,0L0.7,2L-0.7,2Z", "filled": true, "color": "#000000", "size": 49, "opacity": 1}, "encoding": {"x": {"field": "e2", "type": "quantitative"}, "y": {"field": "v2", "type": "quantitative", "axis": null}, "angle": {"field": "a", "type": "quantitative", "scale": null}}}
         ]},
        {"data": {"values": [{"e":282.27,"v":218.3,"t":"C-C/C-H"},{"e":288.17,"v":151.7,"t":"C-O"},{"e":290.19,"v":97.5,"t":"C=O"}]},
         "mark": {"type": "text", "fontSize": 19, "color": "#000000", "baseline": "middle", "align": "center"},
         "encoding": {"y": {"field": "v", "type": "quantitative", "axis": null}, "text": {"field": "t"}}},
        {"data": {"values": [{"e":291.44,"v":233.3,"t":"poly(PEGDA) coated yeast"}]},
         "mark": {"type": "text", "fontSize": 20, "fontWeight": "bold", "fontStyle": "italic", "color": "#000000", "baseline": "middle", "align": "center"},
         "encoding": {"y": {"field": "v", "type": "quantitative", "axis": null}, "text": {"field": "t"}}}
      ]
    },
    {
      "width": 358, "height": 263,
      "data": {"name": "p2p_pegda"},
      "mark": {"type": "line", "color": "#f04cf0"},
      "encoding": {
        "x": {"field": "e", "type": "quantitative", "scale": {"domain": [126, 145], "nice": false, "zero": false},
          "axis": {"values": [127.5, 130, 132.5, 135, 137.5, 140, 142.5, 145], "labelExpr": "datum.value % 5 === 0 ? datum.label : ''", "title": null}},
        "y": {"field": "v", "type": "quantitative", "scale": {"domain": [0, 263], "nice": false, "zero": false}, "axis": null}
      }
    }
  ]
}
